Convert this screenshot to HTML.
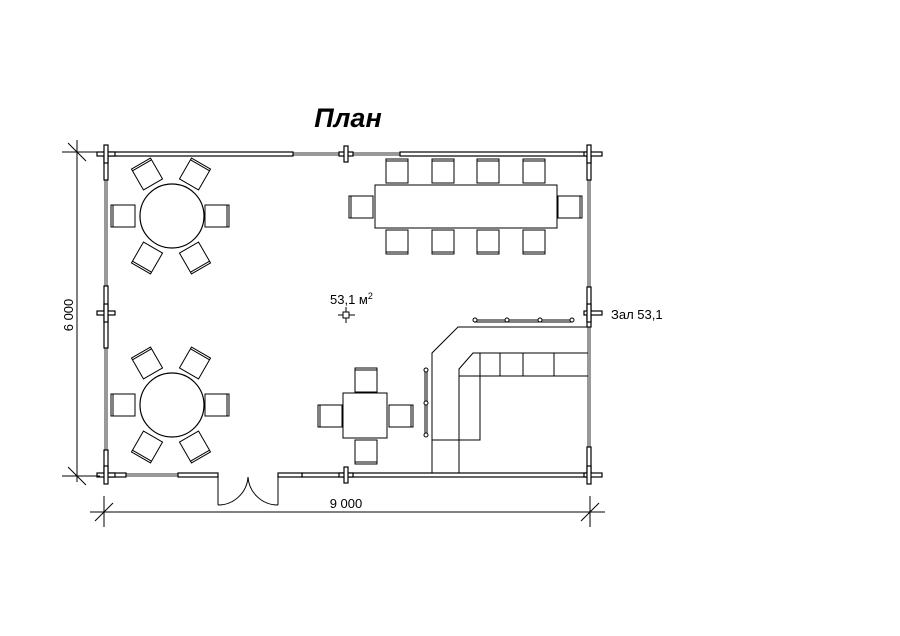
<!DOCTYPE html>
<html><head><meta charset="utf-8"><style>html,body{margin:0;padding:0;background:#fff}svg{display:block}</style></head><body>
<svg width="900" height="636" viewBox="0 0 900 636" xmlns="http://www.w3.org/2000/svg" font-family="Liberation Sans, sans-serif">
<defs>
<g id="ch"><rect x="-11" y="-12" width="22" height="24" fill="#fff" stroke="#000" stroke-width="1"/><line x1="-11" y1="10" x2="11" y2="10" stroke="#000" stroke-width="1"/></g>
</defs>
<g fill="none" stroke="#000">
<!-- walls thick -->
<g stroke-width="1.2" fill="#fff">
<rect x="104" y="152" width="189" height="4"/>
<rect x="400" y="152" width="191" height="4"/>
<rect x="104" y="152" width="4" height="28"/>
<rect x="104" y="286" width="4" height="62"/>
<rect x="104" y="450" width="4" height="27"/>
<rect x="587" y="152" width="4" height="28"/>
<rect x="587" y="287" width="4" height="40"/>
<rect x="587" y="447" width="4" height="30"/>
<rect x="302" y="473" width="289" height="4"/>
<rect x="104" y="473" width="22" height="4"/>
<rect x="178" y="473" width="40" height="4"/>
<rect x="278" y="473" width="24" height="4"/>
</g>
<!-- windows thin -->
<g stroke-width="0.8">
<rect x="293" y="153" width="107" height="2"/>
<rect x="105" y="180" width="2" height="106"/>
<rect x="105" y="348" width="2" height="102"/>
<rect x="588" y="180" width="2" height="107"/>
<rect x="588" y="327" width="2" height="120"/>
<rect x="126" y="474" width="52" height="2"/>
</g>
<!-- posts -->
<g stroke-width="1.2" fill="#fff">
<rect x="97" y="152" width="18" height="4"/><rect x="104" y="145" width="4" height="18"/>
<rect x="584" y="152" width="18" height="4"/><rect x="587" y="145" width="4" height="18"/>
<rect x="97" y="473" width="18" height="4"/><rect x="104" y="466" width="4" height="18"/>
<rect x="584" y="473" width="18" height="4"/><rect x="587" y="466" width="4" height="18"/>
<rect x="339" y="152" width="14" height="4"/><rect x="344" y="146" width="4" height="16"/>
<rect x="339" y="473" width="14" height="4"/><rect x="344" y="467" width="4" height="16"/>
<rect x="97" y="311" width="18" height="4"/><rect x="104" y="304" width="4" height="18"/>
<rect x="584" y="311" width="18" height="4"/><rect x="587" y="304" width="4" height="18"/>
</g>
<!-- door -->
<g stroke-width="1">
<line x1="218" y1="473" x2="218" y2="505"/><line x1="278" y1="473" x2="278" y2="505"/>
<path d="M218 505 A30 30 0 0 0 248 477"/><path d="M278 505 A30 30 0 0 1 248 477"/>
</g>
<!-- dimensions -->
<g stroke-width="1">
<line x1="77" y1="140" x2="77" y2="482"/>
<line x1="62" y1="152" x2="100" y2="152"/><line x1="62" y1="476" x2="100" y2="476"/>
<line x1="68" y1="143" x2="86" y2="161"/><line x1="68" y1="467" x2="86" y2="485"/>
<line x1="90" y1="512" x2="605" y2="512"/>
<line x1="104" y1="496" x2="104" y2="527"/><line x1="590" y1="496" x2="590" y2="527"/>
<line x1="95" y1="521" x2="113" y2="503"/><line x1="581" y1="521" x2="599" y2="503"/>
</g>
<!-- round tables -->
<g stroke-width="1.2">
<circle cx="172" cy="216" r="32"/><circle cx="172" cy="405" r="32"/>
</g>
</g>
<g>
<use href="#ch" transform="translate(123,216) rotate(90)"/>
<use href="#ch" transform="translate(217,216) rotate(-90)"/>
<use href="#ch" transform="translate(147,174) rotate(150)"/>
<use href="#ch" transform="translate(195,174) rotate(-150)"/>
<use href="#ch" transform="translate(147,258) rotate(30)"/>
<use href="#ch" transform="translate(195,258) rotate(-30)"/>
<use href="#ch" transform="translate(123,405) rotate(90)"/>
<use href="#ch" transform="translate(217,405) rotate(-90)"/>
<use href="#ch" transform="translate(147,363) rotate(150)"/>
<use href="#ch" transform="translate(195,363) rotate(-150)"/>
<use href="#ch" transform="translate(147,447) rotate(30)"/>
<use href="#ch" transform="translate(195,447) rotate(-30)"/>
<!-- long table chairs -->
<use href="#ch" transform="translate(397,171) rotate(180)"/>
<use href="#ch" transform="translate(443,171) rotate(180)"/>
<use href="#ch" transform="translate(488,171) rotate(180)"/>
<use href="#ch" transform="translate(534,171) rotate(180)"/>
<use href="#ch" transform="translate(397,242)"/>
<use href="#ch" transform="translate(443,242)"/>
<use href="#ch" transform="translate(488,242)"/>
<use href="#ch" transform="translate(534,242)"/>
<use href="#ch" transform="translate(361,207) rotate(90)"/>
<use href="#ch" transform="translate(570,207) rotate(-90)"/>
<!-- small table chairs -->
<use href="#ch" transform="translate(366,380) rotate(180)"/>
<use href="#ch" transform="translate(366,452)"/>
<use href="#ch" transform="translate(330,416) rotate(90)"/>
<use href="#ch" transform="translate(401,416) rotate(-90)"/>
</g>
<g fill="none" stroke="#000" stroke-width="1">
<rect x="375" y="185" width="182" height="43" fill="#fff"/>
<rect x="343" y="393" width="44" height="45" fill="#fff"/>
<!-- kitchen -->
<path d="M432 473 V353 L458 327 H588"/>
<path d="M588 353 H473 L459 369 V473"/>
<path d="M459 376 H588"/>
<path d="M480 353 V440 H432"/>
<line x1="500" y1="353" x2="500" y2="376"/><line x1="523" y1="353" x2="523" y2="376"/><line x1="554" y1="353" x2="554" y2="376"/>
<line x1="474" y1="320" x2="573" y2="320"/><line x1="474" y1="322" x2="573" y2="322"/>
<line x1="425" y1="370" x2="425" y2="435"/><line x1="427" y1="370" x2="427" y2="435"/>
<g fill="#fff"><circle cx="475" cy="320" r="2"/><circle cx="507" cy="320" r="2"/><circle cx="540" cy="320" r="2"/><circle cx="572" cy="320" r="2"/>
<circle cx="426" cy="370" r="2"/><circle cx="426" cy="403" r="2"/><circle cx="426" cy="435" r="2"/></g>
<!-- area marker -->
<line x1="338" y1="315" x2="355" y2="315"/><line x1="346" y1="307" x2="346" y2="323"/>
<rect x="343" y="312" width="6" height="6" fill="#fff"/>
</g>
<text x="348" y="127" font-size="27" font-weight="bold" font-style="italic" text-anchor="middle">План</text>
<text x="330" y="304" font-size="13">53,1 м<tspan font-size="9" dy="-5">2</tspan></text>
<text x="611" y="319" font-size="13">Зал 53,1</text>
<text x="346" y="508" font-size="13" text-anchor="middle">9 000</text>
<text transform="translate(73,315) rotate(-90)" font-size="13" text-anchor="middle">6 000</text>
</svg>
</body></html>
